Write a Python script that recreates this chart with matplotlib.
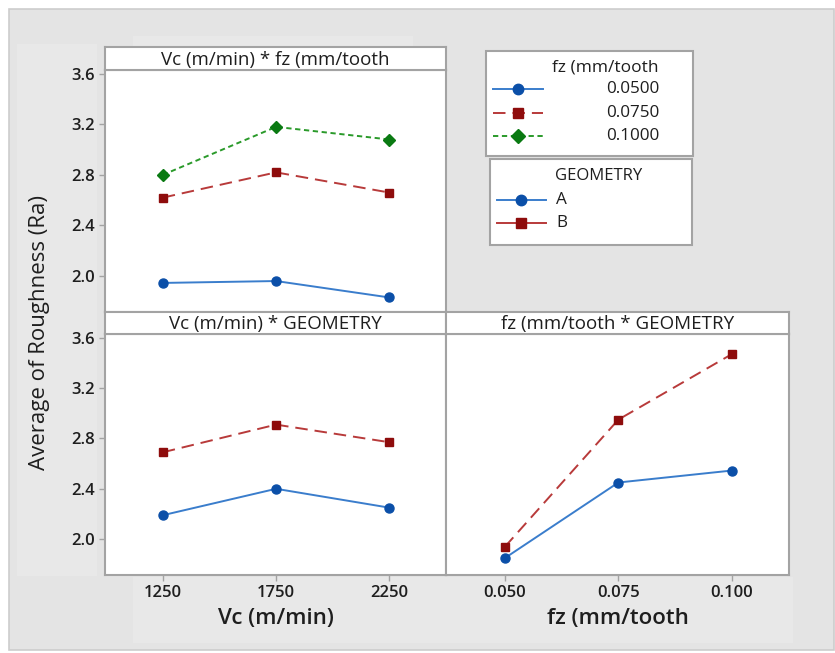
import matplotlib
matplotlib.use("Agg")
import matplotlib.pyplot as plt
from matplotlib.patches import Rectangle
from matplotlib.lines import Line2D

plt.rcParams["font.family"] = ["Open Sans", "DejaVu Sans"]
plt.rcParams["lines.scale_dashes"] = False

# ---- data -------------------------------------------------------------
vc_levels = [1250, 1750, 2250]
fz_levels = [0.050, 0.075, 0.100]
fz_legend_labels = ["0.0500", "0.0750", "0.1000"]
geometry_levels = ["A", "B"]

# Vc * fz interaction (one series per fz level)
vc_fz_means = {
    "0.0500": [1.945, 1.96, 1.83],
    "0.0750": [2.62, 2.82, 2.66],
    "0.1000": [2.80, 3.18, 3.08],
}
# Vc * GEOMETRY interaction
vc_geom_means = {
    "A": [2.19, 2.40, 2.25],
    "B": [2.69, 2.91, 2.77],
}
# fz * GEOMETRY interaction
fz_geom_means = {
    "A": [1.85, 2.45, 2.545],
    "B": [1.94, 2.95, 3.47],
}
y_ticks = [2.0, 2.4, 2.8, 3.2, 3.6]

# ---- styles -----------------------------------------------------------
BLUE_LINE, BLUE_MK = "#3a7dcc", "#0b4fa8"
RED_LINE, RED_MK = "#b83a3a", "#8e0c0c"
GREEN_LINE, GREEN_MK = "#2a9a2a", "#0a7a12"
FRAME = "#a3a3a3"
TXT = "#1e1e1e"

styles = {
    "0.0500": dict(color=BLUE_LINE, mfc=BLUE_MK, mec=BLUE_MK, marker="o", ms=6.5, ls="-"),
    "0.0750": dict(color=RED_LINE, mfc=RED_MK, mec=RED_MK, marker="s", ms=6, ls=(0, (9, 5))),
    "0.1000": dict(color=GREEN_LINE, mfc=GREEN_MK, mec=GREEN_MK, marker="D", ms=6, ls=(0, (3.8, 2.6))),
}
geom_styles = {"A": styles["0.0500"], "B": styles["0.0750"]}

W, H = 835, 653
fig = plt.figure(figsize=(W / 100, H / 100), dpi=100)
fig.patch.set_facecolor("white")


def px_axes(x0, y0, x1, y1, **kw):
    """Axes placed by pixel box (top-left origin)."""
    return fig.add_axes([x0 / W, 1 - y1 / H, (x1 - x0) / W, (y1 - y0) / H], **kw)


# grey backdrop
bg = px_axes(0, 0, W, H)
bg.set_xlim(0, W)
bg.set_ylim(H, 0)
bg.axis("off")
bg.add_patch(Rectangle((9, 9), 825, 641, facecolor="#e4e4e4", edgecolor="#cdcdcd", lw=1.2))
bg.add_patch(Rectangle((17, 44), 80, 532, facecolor="#e8e8e8", edgecolor="none"))
bg.add_patch(Rectangle((133, 36), 280, 12, facecolor="#e8e8e8", edgecolor="none"))
bg.add_patch(Rectangle((133, 577), 660, 66, facecolor="#e8e8e8", edgecolor="none"))

YLIM = (1.715, 3.63)
VC_LIM = (995, 2500)
FZ_LIM = (0.0370, 0.1126)


def style_axes(ax, xlim, show_xticks, show_yticks):
    ax.set_facecolor("white")
    ax.set_ylim(*YLIM)
    ax.set_xlim(*xlim)
    for s in ax.spines.values():
        s.set_color(FRAME)
        s.set_linewidth(1.5)
    ax.set_yticks(y_ticks)
    ax.tick_params(axis="both", direction="out", length=4, width=1, color=FRAME,
                   labelsize=12, labelcolor=TXT, pad=3)
    if show_yticks:
        ax.set_yticklabels([f"{v:.1f}" for v in y_ticks], fontweight="semibold")
    else:
        ax.tick_params(axis="y", left=False, labelleft=False)
    if not show_xticks:
        ax.tick_params(axis="x", bottom=False, labelbottom=False)


def strip(x0, y0, x1, y1, text):
    s = px_axes(x0, y0, x1, y1)
    s.set_xticks([])
    s.set_yticks([])
    s.set_facecolor("white")
    for sp in s.spines.values():
        sp.set_color(FRAME)
        sp.set_linewidth(1.5)
    s.text(0.5, 0.45, text, ha="center", va="center", fontsize=13.5, color=TXT,
           transform=s.transAxes)


# ---- panel: Vc * fz ---------------------------------------------------
ax1 = px_axes(105, 70, 446, 312)
style_axes(ax1, VC_LIM, False, True)
for key, vals in vc_fz_means.items():
    ax1.plot(vc_levels, vals, lw=1.4, clip_on=False, **styles[key])
strip(105, 47, 446, 70, "Vc (m/min) * fz (mm/tooth")

# ---- panel: Vc * GEOMETRY ---------------------------------------------
ax3 = px_axes(105, 334, 446, 575)
style_axes(ax3, VC_LIM, True, True)
for key, vals in vc_geom_means.items():
    ax3.plot(vc_levels, vals, lw=1.4, **geom_styles[key])
ax3.set_xticks(vc_levels)
ax3.set_xticklabels([str(v) for v in vc_levels], fontweight="semibold")
ax3.set_xlabel("Vc (m/min)", fontsize=16, color=TXT, labelpad=5, fontweight="semibold")
strip(105, 312, 446, 334, "Vc (m/min) * GEOMETRY")

# ---- panel: fz * GEOMETRY ---------------------------------------------
ax4 = px_axes(446, 334, 789, 575)
style_axes(ax4, FZ_LIM, True, False)
for key, vals in fz_geom_means.items():
    ax4.plot(fz_levels, vals, lw=1.4, **geom_styles[key])
ax4.set_xticks(fz_levels)
ax4.set_xticklabels([f"{v:.3f}" for v in fz_levels], fontweight="semibold")
ax4.set_xlabel("fz (mm/tooth", fontsize=16, color=TXT, labelpad=5, fontweight="semibold")
strip(446, 312, 789, 334, "fz (mm/tooth * GEOMETRY")

# shared y label
fig.text(40 / W, 1 - 333 / H, "Average of Roughness (Ra)", rotation=90,
         ha="center", va="center", fontsize=16, color=TXT)

# ---- legends ----------------------------------------------------------
lg = px_axes(0, 0, W, H)
lg.set_xlim(0, W)
lg.set_ylim(H, 0)
lg.axis("off")
lg.patch.set_alpha(0)

lg.add_patch(Rectangle((486, 51), 207, 105, facecolor="white", edgecolor=FRAME, lw=1.5))
lg.text(659, 67, "fz (mm/tooth", ha="right", va="center", fontsize=12.5, color=TXT)
for lab, yy in zip(fz_legend_labels, [89, 113, 136]):
    st = styles[lab]
    lg.add_line(Line2D([493, 543], [yy, yy], color=st["color"], ls=st["ls"], lw=1.4))
    lg.add_line(Line2D([518], [yy], marker=st["marker"], ms=st["ms"] + 1,
                       mfc=st["mfc"], mec=st["mec"], ls="none"))
    lg.text(659, yy, lab, ha="right", va="center", fontsize=12.3, color=TXT)

lg.add_patch(Rectangle((490, 159), 202, 86, facecolor="white", edgecolor=FRAME, lw=1.5))
lg.text(555, 176, "GEOMETRY", ha="left", va="center", fontsize=12, color=TXT)
for lab, yy in zip(geometry_levels, [200, 223]):
    st = geom_styles[lab]
    lg.add_line(Line2D([497, 546], [yy, yy], color=st["color"], ls="-", lw=1.4))
    lg.add_line(Line2D([521], [yy], marker=st["marker"], ms=st["ms"] + 1,
                       mfc=st["mfc"], mec=st["mec"], ls="none"))
    lg.text(556, yy, lab, ha="left", va="center", fontsize=12.3, color=TXT)

fig.savefig("out.png", dpi=100, facecolor=fig.get_facecolor())
